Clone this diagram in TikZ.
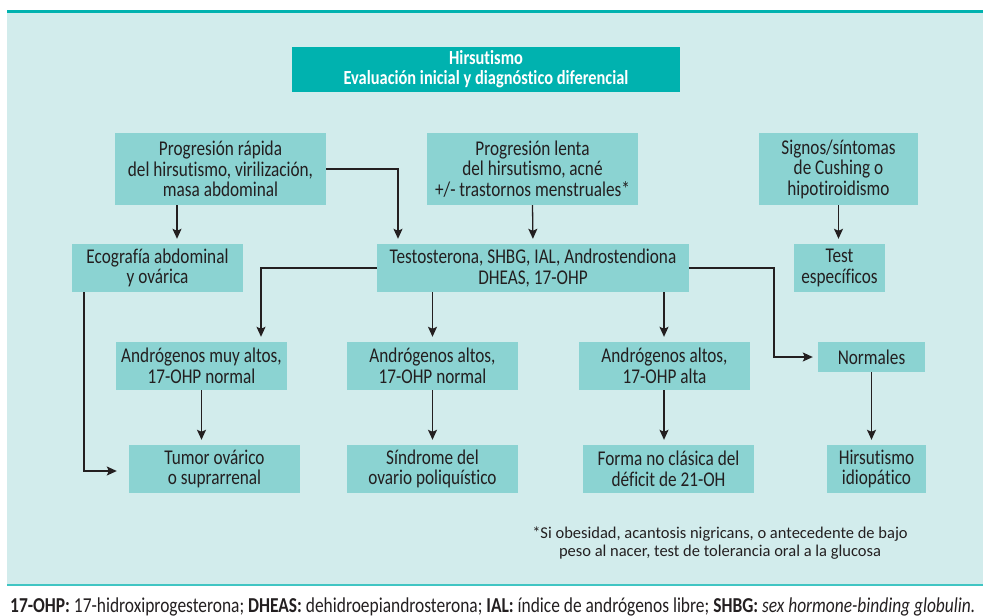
\documentclass[tikz,border=0pt]{standalone}
\usepackage{fontspec}
\setmainfont{Carlito}[Ligatures=NoCommon]
\newfontfamily\condfont{Carlito}[FakeStretch=0.82,Ligatures=NoCommon]
\usetikzlibrary{arrows.meta,calc}
\definecolor{panel}{HTML}{D2ECEC}
\definecolor{boxc}{HTML}{8BD3D2}
\definecolor{titlec}{HTML}{00B2AF}
\definecolor{ink}{HTML}{231F20}
\tikzset{
  box/.style={rectangle, fill=boxc, inner sep=0pt, align=center, text=ink,
    font=\condfont\fontsize{21}{20.5}\selectfont},
  titlebox/.style={rectangle, fill=titlec, inner sep=0pt, align=center, text=white,
    font=\condfont\bfseries\fontsize{20}{20}\selectfont},
  arr/.style={draw=ink, line width=1.3pt, -{Stealth[length=10pt,width=9pt,inset=2pt]}, shorten >=5pt},
}
\begin{document}
\begin{tikzpicture}[x=1pt,y=-1pt]
\useasboundingbox (0,0) rectangle (983,616);
\fill[panel] (7,11) rectangle (983,584);
\draw[titlec, line width=3pt] (7,11.5) -- (983,11.5);
\draw[titlec!75, line width=2pt] (7,584.5) -- (983,584.5);

\node[titlebox, minimum width=388pt, minimum height=45pt] (title) at (486,69.5)
  {Hirsutismo\\Evaluación inicial y diagnóstico diferencial};

\node[box, minimum width=211pt, minimum height=72pt] (p1) at (220.5,169)
  {Progresión rápida\\del hirsutismo, virilización,\\masa abdominal};
\node[box, minimum width=211pt, minimum height=72pt] (p2) at (532.5,169)
  {Progresión lenta\\del hirsutismo, acné\\+/- trastornos menstruales*};
\node[box, minimum width=159pt, minimum height=72pt] (sig) at (838.5,169)
  {Signos/síntomas\\de Cushing o\\hipotiroidismo};

\node[box, minimum width=171pt, minimum height=48pt] (eco) at (157.5,268)
  {Ecografía abdominal\\y ovárica};
\node[box, minimum width=312pt, minimum height=48pt] (test) at (533,268)
  {Testosterona, SHBG, IAL, Androstendiona\\DHEAS, 17-OHP};
\node[box, minimum width=91pt, minimum height=48pt] (tesp) at (839.5,268)
  {Test\\específicos};

\node[box, minimum width=171pt, minimum height=48pt] (a1) at (201.5,366)
  {Andrógenos muy altos,\\17-OHP normal};
\node[box, minimum width=171pt, minimum height=48pt] (a2) at (432.5,366)
  {Andrógenos altos,\\17-OHP normal};
\node[box, minimum width=171pt, minimum height=48pt] (a3) at (664.5,366)
  {Andrógenos altos,\\17-OHP alta};
\node[box, minimum width=107pt, minimum height=30pt] (norm) at (871.5,357)
  {Normales};

\node[box, minimum width=171pt, minimum height=48pt] (r1) at (214.5,469)
  {Tumor ovárico\\o suprarrenal};
\node[box, minimum width=171pt, minimum height=48pt] (r2) at (432.5,469)
  {Síndrome del\\ovario poliquístico};
\node[box, minimum width=171pt, minimum height=48pt] (r3) at (668.5,469)
  {Forma no clásica del\\déficit de 21-OH};
\node[box, minimum width=99pt, minimum height=48pt] (r4) at (876.5,469)
  {Hirsutismo\\idiopático};

\node[text=ink, align=center, font=\fontsize{16.5}{18.5}\selectfont, inner sep=0pt] (note) at (720,543)
  {*Si obesidad, acantosis nigricans, o antecedente de bajo\\peso al nacer, test de tolerancia oral a la glucosa};

\node[text=ink, anchor=west, inner sep=0pt] (foot) at (10,606.5)
  {\resizebox{965pt}{!}{\condfont\textbf{17-OHP:} 17-hidroxiprogesterona; \textbf{DHEAS:} dehidroepiandrosterona; \textbf{IAL:} índice de andrógenos libre; \textbf{SHBG:} \textit{sex hormone-binding globulin.}}};

% helper coordinates
\coordinate (x177) at (177,0);
\coordinate (x398) at (398,0);
\coordinate (x261) at (261,0);
\coordinate (x664) at (664,0);
\coordinate (x774) at (774,0);
\coordinate (x84) at (84,0);

\draw[arr] (p1.south -| x177) -- (eco.north -| x177);
\draw[arr] (p1.east) -| (test.north -| x398);
\draw[arr] (p2.south) -- (test.north);
\draw[arr] (sig.south) -- (sig.south |- tesp.north);
\draw[arr] (test.west) -| (a1.north -| x261);
\draw[arr] (a2.north |- test.south) -- (a2.north);
\draw[arr] (test.south -| x664) -- (a3.north -| x664);
\draw[arr] (test.east) -| (x774 |- norm.west) -- (norm.west);
\draw[arr] (a1.south) -- (a1.south |- r1.north);
\draw[arr] (a2.south) -- (r2.north);
\draw[arr] (a3.south -| x664) -- (r3.north -| x664);
\draw[arr] (norm.south) -- (norm.south |- r4.north);
\draw[arr, shorten >=12pt] (eco.south -| x84) |- ($(r1.west)+(0,2)$);
\end{tikzpicture}
\end{document}
